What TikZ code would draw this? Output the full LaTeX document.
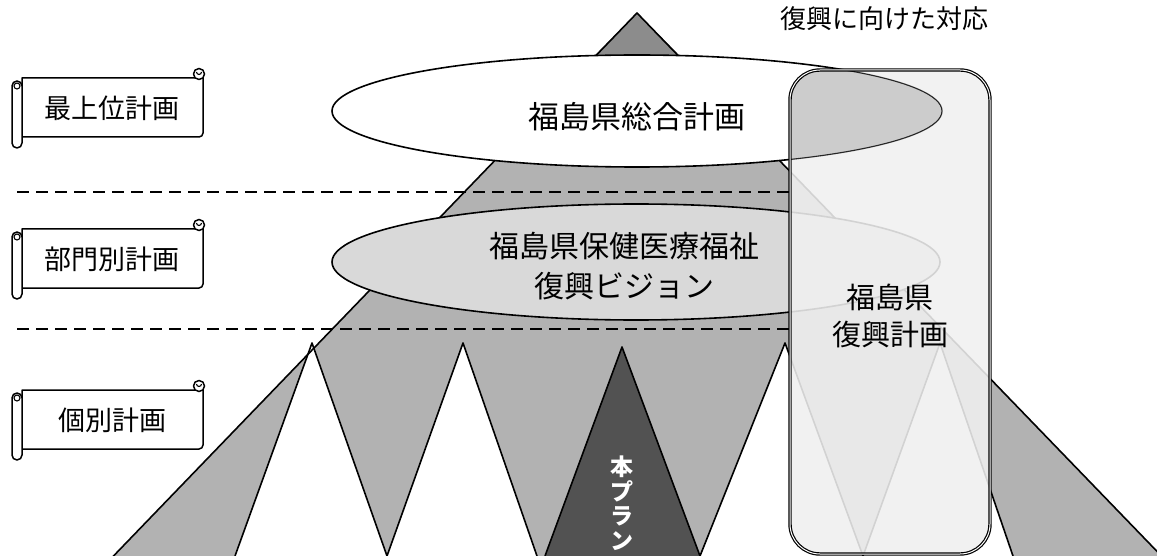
\documentclass[tikz,border=0pt]{standalone}
\usepackage{fontspec}
\newfontfamily\jp{Noto Sans CJK JP}
\begin{document}
\begin{tikzpicture}[x=1pt,y=-1pt,line join=round,
  edge/.style={line width=1.6pt},
  dashline/.style={line width=1.6pt,dash pattern=on 12pt off 7pt},
  lbl/.style={inner sep=0pt,font=\jp\fontsize{26}{26}\selectfont},
  banner/.pic={
    \filldraw[fill=white,line width=1.5pt] (0,0) -- (181,0) -- (181,55) arc[start angle=0,end angle=-90,radius=4pt] -- (0,59) -- cycle;
    \filldraw[fill=white,line width=1.5pt] (177,-4) circle (5.5pt);
    \draw[line width=1.1pt] (174.5,-6) arc[start angle=180,end angle=360,radius=2.5pt];
    \filldraw[fill=white,line width=1.5pt,rounded corners=5pt] (-10,3) rectangle (0,70);
    \draw[line width=1.1pt] (-5,8) circle (3pt);
  }]
\useasboundingbox (0,0) rectangle (1157,556);
\clip (0,0) rectangle (1157,556);
% pyramid
\coordinate (apex) at (637,13);
\coordinate (bl) at (100,570);
\coordinate (br) at (1175,570);
\fill[black!30] (apex) -- (bl) -- (br) -- cycle;
\fill[black!45] (apex) -- (595,55) -- (679,55) -- cycle;
% zigzag triangles (bases on the lower edge)
\coordinate (a1) at (312,343); \coordinate (a2) at (463,343);
\coordinate (a3) at (622,347); \coordinate (a4) at (785,343);
\coordinate (a5) at (940,343);
\coordinate (p0) at (235,556); \coordinate (p1) at (387,556);
\coordinate (p2) at (537,556); \coordinate (p3) at (545,556);
\coordinate (p4) at (700,556); \coordinate (p5) at (863,556);
\coordinate (p6) at (1013,556);
\fill[white] (a1) -- (p0) -- (p1) -- cycle;
\fill[white] (a2) -- (p1) -- (p2) -- cycle;
\fill[black!68] (a3) -- (p3) -- (p4) -- cycle;
\fill[white] (a4) -- (p4) -- (p5) -- cycle;
\fill[white] (a5) -- (p5) -- (p6) -- cycle;
\draw[edge] (p0) -- (a1) -- (p1) -- (a2) -- (p2);
\draw[edge] (p3) -- (a3) -- (p4) -- (a4) -- (p5) -- (a5) -- (p6);
\draw[edge] (bl) -- (apex) -- (br);
% dashed level lines
\draw[dashline] (17,192) -- (790,192);
\draw[dashline] (17,329) -- (790,329);
% ellipses
\filldraw[fill=black!15,edge] (636,262) ellipse [x radius=304pt,y radius=58pt];
\filldraw[fill=white,edge] (637,111) ellipse [x radius=305pt,y radius=56pt];
% reconstruction frame
\fill[black!6,fill opacity=0.88,rounded corners=30pt] (790,70) rectangle (990,554);
\begin{scope}
  \clip[rounded corners=30pt] (790,70) rectangle (990,554);
  \filldraw[fill=black!20,draw=black!85,line width=1.1pt] (637,111) ellipse [x radius=305pt,y radius=56pt];
\end{scope}
\draw[line width=1.2pt,double,double distance=1pt,rounded corners=30pt] (790,70) rectangle (990,554);
% texts
\node[lbl,font=\jp\fontsize{31}{31}\selectfont] (sogo) at (637,117) {福島県総合計画};
\node[lbl,align=center,font=\jp\fontsize{30}{40}\selectfont] (vision) at (624,266) {福島県保健医療福祉\\復興ビジョン};
\node[lbl,align=center,font=\jp\fontsize{29}{37}\selectfont] (fukko) at (890,316) {福島県\\復興計画};
\node[lbl] (taio) at (884,19) {復興に向けた対応};
\node[lbl,align=center,text=white,font=\jp\bfseries\fontsize{23}{24.5}\selectfont] (plan) at (622,503) {本\\プ\\ラ\\ン};
% banners
\pic at (22,78) {banner};
\pic at (22,229) {banner};
\pic at (22,390) {banner};
\node[lbl,font=\jp\fontsize{27}{27}\selectfont] (b1) at (112,108) {最上位計画};
\node[lbl,font=\jp\fontsize{27}{27}\selectfont] (b2) at (112,259) {部門別計画};
\node[lbl,font=\jp\fontsize{27}{27}\selectfont] (b3) at (112,420) {個別計画};
\end{tikzpicture}
\end{document}
